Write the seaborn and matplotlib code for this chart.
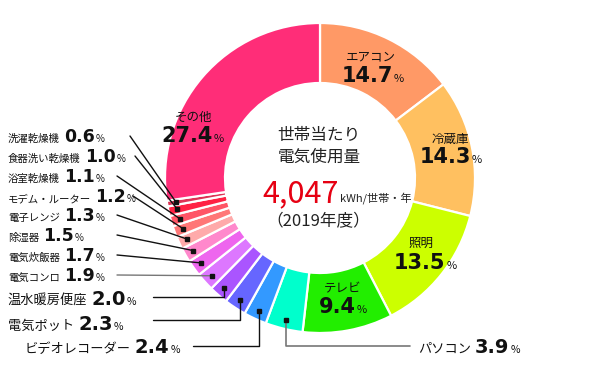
import numpy as np
import pandas as pd
import matplotlib
matplotlib.use('Agg')
import matplotlib.pyplot as plt
import seaborn as sns

sns.set_theme(style='white')
plt.rcParams['font.family'] = ['Noto Sans CJK JP', 'DejaVu Sans']

# data (clockwise from 12 o'clock)
appliances = ['エアコン', '冷蔵庫', '照明', 'テレビ', 'パソコン', 'ビデオレコーダー',
              '電気ポット', '温水暖房便座', '電気コンロ', '電気炊飯器', '除湿器',
              '電子レンジ', 'モデム・ルーター', '浴室乾燥機', '食器洗い乾燥機',
              '洗濯乾燥機', 'その他']
shares = [14.7, 14.3, 13.5, 9.4, 3.9, 2.4, 2.3, 2.0, 1.9, 1.7, 1.5, 1.3, 1.2,
          1.1, 1.0, 0.6, 27.4]
colors = ['#FF9966', '#FFC060', '#CCFF00', '#22EE00', '#00FFCC', '#3399FF',
          '#6666FF', '#AA55FF', '#DD77FF', '#EE66EE', '#FF88CC', '#FFAAAA',
          '#FF7777', '#FF5566', '#FF2244', '#DD3355', '#FF2D78']
center_title = ['世帯当たり', '電気使用量']
total_kwh = '4,047'
unit_label = 'kWh/世帯・年'
year_label = '（2019年度）'

W, H = 600, 367
cx, cy = 320, 178
R, ring = 155, 60
NUM = 'DejaVu Sans'
JP = 'Noto Sans CJK JP'


def py(y):
    return H - y


fig = plt.figure(figsize=(W / 100, H / 100), dpi=100)
ax = fig.add_axes([0, 0, 1, 1])
wedges, _ = ax.pie(shares, colors=colors, startangle=90, counterclock=False,
                   radius=R, center=(cx, py(cy)),
                   wedgeprops=dict(width=ring, edgecolor='white', linewidth=1.6))
ax.set_xlim(0, W)
ax.set_ylim(0, H)
ax.set_aspect('equal')
ax.axis('off')

renderer = fig.canvas.get_renderer()


def put(x, y, parts, align='left'):
    # parts: (text, size, weight, family, color, gap after)
    texts, ws = [], []
    for s, fs, fw, fam, c, gap in parts:
        t = ax.text(0, py(y), s, fontsize=fs, fontweight=fw, family=fam,
                    color=c, va='baseline', ha='left')
        texts.append(t)
        ws.append(t.get_window_extent(renderer).width + gap)
    total = sum(ws) - parts[-1][5]
    cur = x - total / 2 if align == 'center' else x
    for t, w in zip(texts, ws):
        t.set_x(cur)
        cur += w


def dot(i, r=146):
    w = wedges[i]
    a = np.deg2rad((w.theta1 + w.theta2) / 2)
    return cx + r * np.cos(a), py(cy) + r * np.sin(a)


def lbl(i, x, y, nsize, vsize, psize, align='left'):
    put(x, y, [(appliances[i], nsize, 'normal', JP, '#111', 4),
               (f'{shares[i]:.1f}', vsize, 'bold', NUM, '#111', 1),
               ('%', psize, 'normal', JP, '#111', 0)], align)


# labels inside the ring
inside = [(0, 371, 60, 373, 82), (1, 450, 143, 451, 163), (2, 421, 247, 425, 269),
          (3, 343, 292, 343, 313), (16, 193, 121, 193, 142)]
for i, nx, nb, vx, vb in inside:
    put(nx, nb, [(appliances[i], 9, 'normal', JP, '#111', 0)], 'center')
    put(vx, vb, [(f'{shares[i]:.1f}', 15, 'bold', NUM, '#111', 1),
                 ('%', 8, 'normal', JP, '#111', 0)], 'center')

# small labels on the left with straight leaders
left_rows = [15, 14, 13, 12, 11, 10, 9, 8]
left_base = [142, 162, 182, 202, 221, 241, 261, 281]
left_start = [130, 135, 117, 133, 117, 117, 117, 117]
for i, b, sx in zip(left_rows, left_base, left_start):
    lbl(i, 8, b, 7.5, 12.5, 7)
    dx, dy = dot(i)
    lc = '#777777' if i == 8 else '#111111'
    ax.plot([sx, dx], [py(b - 6), dy], color=lc, lw=1)
    ax.plot(dx, dy, 's', color='#111', ms=2.5)

# larger labels with elbow leaders
elbow = [(7, 8, 305, 297, 153), (6, 8, 330, 320, 153), (5, 25, 353, 346, 193)]
for i, x, b, ly, sx in elbow:
    lbl(i, x, b, 9.5, 14, 7.5)
    dx, dy = dot(i)
    ax.plot([sx, dx, dx], [py(ly), py(ly), dy], color='#111', lw=1)
    ax.plot(dx, dy, 's', color='#111', ms=2.5)

# パソコン on the right
lbl(4, 418, 353, 9.5, 14, 7.5)
dx, dy = dot(4)
ax.plot([dx, dx, 410], [dy, py(346), py(346)], color='#777777', lw=1.2)
ax.plot(dx, dy, 's', color='#111', ms=2.5)

# centre text
put(319, 140, [(center_title[0], 12, 'normal', JP, '#222', 0)], 'center')
put(319, 162, [(center_title[1], 12, 'normal', JP, '#222', 0)], 'center')
put(262, 202, [(total_kwh, 22, 'normal', JP, '#E60012', 2),
               (unit_label, 8, 'normal', JP, '#222', 0)])
put(318, 226, [(year_label, 12, 'normal', JP, '#222', 0)], 'center')

fig.savefig('out.png', dpi=100, facecolor='white')
